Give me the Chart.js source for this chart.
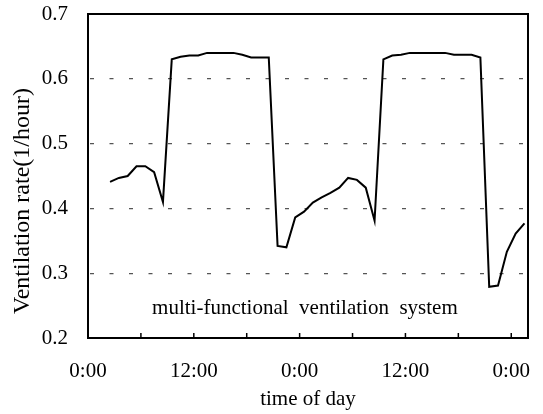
<!DOCTYPE html>
<html>
<head>
<meta charset="utf-8">
<script src="https://cdn.jsdelivr.net/npm/chart.js@4"></script>
<style>
  body { margin: 0; background: #fff; }
  #wrap { width: 543px; height: 414px; }
</style>
</head>
<body>
<div id="wrap"><canvas id="ventChart"></canvas></div>
<script>
// hours since midnight of the first day (hourly samples)
const hours = [
  2.5, 3.5, 4.5, 5.5, 6.5, 7.5, 8.5, 9.5, 10.5, 11.5, 12.5, 13.5,
  14.5, 15.5, 16.5, 17.5, 18.5, 19.5, 20.5, 21.5, 22.5, 23.5, 24.5, 25.5,
  26.5, 27.5, 28.5, 29.5, 30.5, 31.5, 32.5, 33.5, 34.5, 35.5, 36.5, 37.5,
  38.5, 39.5, 40.5, 41.5, 42.5, 43.5, 44.5, 45.5, 46.5, 47.5, 48.5, 49.5
];
// ventilation rate (1/hour)
const ventRate = [
  0.441, 0.447, 0.450, 0.465, 0.465, 0.456, 0.410, 0.630, 0.634, 0.636, 0.636, 0.640,
  0.640, 0.640, 0.640, 0.637, 0.633, 0.633, 0.633, 0.342, 0.340, 0.386, 0.395, 0.409,
  0.417, 0.424, 0.432, 0.447, 0.444, 0.432, 0.381, 0.630, 0.636, 0.637, 0.640, 0.640,
  0.640, 0.640, 0.640, 0.637, 0.637, 0.637, 0.633, 0.279, 0.281, 0.333, 0.361, 0.377
];
const yTicks = [0.2, 0.3, 0.4, 0.5, 0.6, 0.7];
const xTickHours = [0, 6, 12, 18, 24, 30, 36, 42, 48];
const xLabels = { 0: '0:00', 12: '12:00', 24: '0:00', 36: '12:00', 48: '0:00' };

const serif = "'Liberation Serif', 'Times New Roman', serif";

// frame, inner tick marks, y title and the note inside the plot
const decorations = {
  id: 'decorations',
  afterDraw(chart) {
    const { ctx, chartArea: a, scales } = chart;
    ctx.save();
    ctx.strokeStyle = '#000';
    ctx.lineWidth = 1.5;
    scales.x.ticks.forEach(t => {
      if (t.value <= 0) return;
      const px = scales.x.getPixelForValue(t.value);
      ctx.beginPath();
      ctx.moveTo(px, a.bottom);
      ctx.lineTo(px, a.bottom - 5);
      ctx.stroke();
    });
    ctx.lineWidth = 2;
    ctx.strokeRect(a.left, a.top, a.right - a.left, a.bottom - a.top);

    ctx.fillStyle = '#000';
    ctx.textAlign = 'center';
    ctx.textBaseline = 'middle';
    ctx.font = '21px ' + serif;
    ctx.fillText('multi-functional  ventilation  system',
      scales.x.getPixelForValue(24.6), scales.y.getPixelForValue(0.246));

    ctx.translate(23, 201);
    ctx.rotate(-Math.PI / 2);
    ctx.font = '24px ' + serif;
    ctx.fillText('Ventilation rate(1/hour)', 0, 0);
    ctx.restore();
  }
};

new Chart(document.getElementById('ventChart'), {
  type: 'line',
  data: {
    datasets: [{
      label: 'multi-functional ventilation system',
      data: hours.map((h, i) => ({ x: h, y: ventRate[i] })),
      borderColor: '#000',
      borderWidth: 2,
      pointRadius: 0,
      tension: 0,
      fill: false
    }]
  },
  options: {
    responsive: true,
    maintainAspectRatio: false,
    animation: false,
    layout: { padding: { top: 14, right: 15, left: 0, bottom: 0 } },
    plugins: {
      legend: { display: false },
      tooltip: { enabled: false }
    },
    scales: {
      x: {
        type: 'linear',
        min: 0,
        max: 49.9,
        afterFit: s => { s.height = 76; s.paddingLeft = 0; s.paddingRight = 0; },
        afterBuildTicks: s => { s.ticks = xTickHours.map(v => ({ value: v })); },
        grid: { display: false },
        border: { display: false },
        ticks: {
          autoSkip: false,
          maxRotation: 0,
          padding: 13,
          color: '#000',
          font: { family: serif, size: 21 },
          callback: v => xLabels[v] || ''
        },
        title: {
          display: true,
          text: 'time of day',
          color: '#000',
          font: { family: serif, size: 21 },
          padding: { top: 0, bottom: 2 }
        }
      },
      y: {
        min: 0.2,
        max: 0.7,
        afterFit: s => { s.width = 88; s.paddingTop = 0; s.paddingBottom = 0; },
        afterBuildTicks: s => { s.ticks = yTicks.map(v => ({ value: v })); },
        grid: { color: '#555', lineWidth: 1.2, drawTicks: false },
        border: { display: false, dash: [4, 15.5], dashOffset: 17.5 },
        ticks: {
          padding: 20,
          color: '#000',
          font: { family: serif, size: 21 },
          callback: v => v.toFixed(1)
        }
      }
    }
  },
  plugins: [decorations]
});
</script>
</body>
</html>
